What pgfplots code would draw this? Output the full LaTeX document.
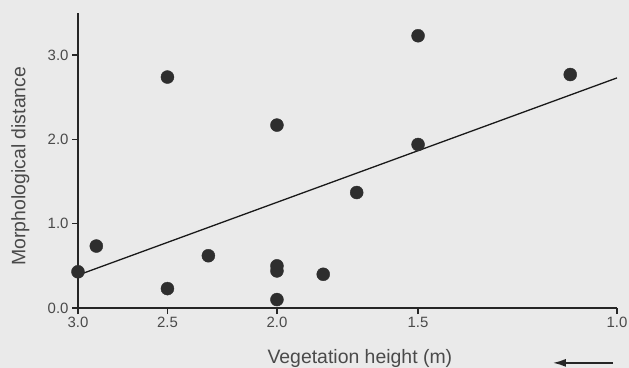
\documentclass[border=0pt]{standalone}
\usepackage{pgfplots}
\pgfplotsset{compat=1.18}
\usetikzlibrary{arrows.meta}
\usepackage{fontspec}
\setmainfont{Liberation Sans}
\definecolor{bg}{HTML}{EAEAEA}
\definecolor{dot}{HTML}{2E2E2E}
\definecolor{txt}{HTML}{4A4A4A}
\begin{document}
\begin{tikzpicture}
\fill[bg] (0,0) rectangle (629bp,368bp);
\useasboundingbox (0,0) rectangle (629bp,368bp);
\begin{axis}[
  at={(78bp,60bp)}, anchor=south west,
  scale only axis, width=539bp, height=295bp,
  xmode=log, x dir=reverse,
  xmin=1, xmax=3, ymin=0, ymax=3.5,
  axis lines=left, axis line style={-, line width=1.8bp, black!85},
  clip=false,
  xtick={1,1.5,2,2.5,3}, xticklabels={1.0,1.5,2.0,2.5,3.0},
  ytick={0,1,2,3}, yticklabels={0.0,1.0,2.0,3.0},
  tick align=outside, major tick length=6bp,
  tick style={line width=1.4bp, black!85},
  tick label style={font=\fontsize{15}{17}\selectfont, text=txt},
  /pgf/number format/assume math mode=true,
  xlabel={Vegetation height (m)}, ylabel={Morphological distance},
  every axis x label/.style={at={(axis description cs:0.523,-0.187)}, anchor=base, font=\fontsize{19.5}{22}\selectfont, text=txt},
  every axis y label/.style={at={(axis description cs:-0.107,0.481)}, rotate=90, anchor=center, font=\fontsize{19.5}{22}\selectfont, text=txt},
]
\addplot[black!90, line width=1.3bp] coordinates {(3,0.39) (1,2.73)};
\addplot[only marks, mark=*, mark size=6.5bp, mark options={fill=dot, draw=dot}] coordinates {
(3.0,0.43) (2.89,0.735) (2.5,2.74) (2.5,0.23) (2.30,0.62)
(2.0,2.17) (2.0,0.50) (2.0,0.44) (2.0,0.10) (1.82,0.40)
(1.70,1.37) (1.5,1.94) (1.5,3.23) (1.10,2.77)
};
\draw[-{Latex[length=13bp,width=8bp]}, line width=1.8bp, black!85] (rel axis cs:0.9926,-0.186) -- (rel axis cs:0.881,-0.186);
\end{axis}
\end{tikzpicture}
\end{document}
